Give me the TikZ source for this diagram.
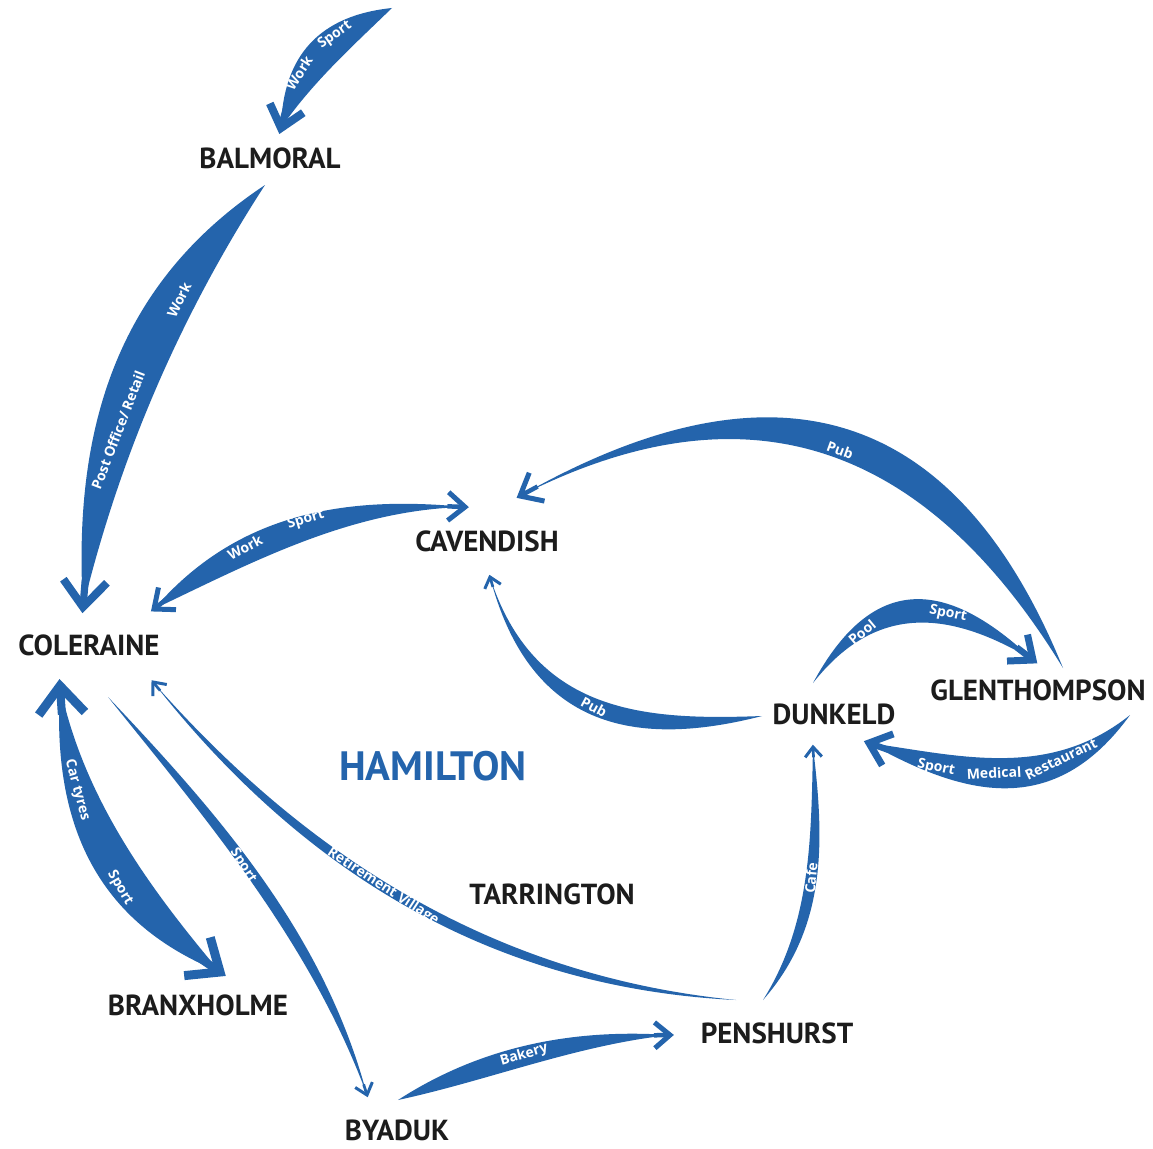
\documentclass[tikz,border=0pt]{standalone}
\usepackage{fontspec}
\newfontfamily\townfont{PT Sans}
\newfontfamily\lblfont{Open Sans}
\usetikzlibrary{calc}
\definecolor{arrowblue}{HTML}{2464AC}
\definecolor{townblack}{HTML}{1C1C1C}
% tip, toward, length, line width
\newcommand\chevr[4]{%
  \draw[arrowblue, line width=#4pt, line join=miter]
    ($(#1)!#3pt!40:(#2)$) -- (#1) -- ($(#1)!#3pt!-40:(#2)$);
  \draw[arrowblue, line width=0.9*#4pt] (#1) -- ($(#1)!0.8*#3pt!(#2)$);
}
% tail, head, h1, h2, k1, k2, head lw, chevron length
\newcommand\crescarrow[8]{%
  \coordinate (cA) at (#1);
  \coordinate (cB) at (#2);
  \coordinate (c1) at ($(cA)!1/3!(cB)!#3pt!90:(cB)$);
  \coordinate (c2) at ($(cA)!2/3!(cB)!#4pt!90:(cB)$);
  \coordinate (d1) at ($(cA)!1/3!(cB)!#5pt!90:(cB)$);
  \coordinate (d2) at ($(cA)!2/3!(cB)!#6pt!90:(cB)$);
  \coordinate (cm1) at ($(c1)!0.5!(d1)$);
  \coordinate (cm2) at ($(c2)!0.5!(d2)$);
  \fill[arrowblue] (cA) .. controls (c1) and (c2) .. (cB)
     .. controls (d2) and (d1) .. (cA) -- cycle;
  \chevr{cB}{cm2}{#8}{#7}
}
\tikzset{
  town/.style={font=\townfont\bfseries\fontsize{29}{30}\selectfont, text=townblack, inner sep=0pt},
  lbl/.style={font=\lblfont\bfseries\fontsize{14}{15}\selectfont, text=white, inner sep=0pt},
}
\begin{document}
\begin{tikzpicture}[x=1pt,y=-1pt]
\fill[white] (0,0) rectangle (1153,1148);
\useasboundingbox (0,0) rectangle (1153,1148);

% towns
\node[town] (balmoral) at (270,158) {BALMORAL};
\node[town] (cavendish) at (487,541) {CAVENDISH};
\node[town] (coleraine) at (89,645) {COLERAINE};
\node[town] (glenthompson) at (1038,690) {GLENTHOMPSON};
\node[town] (dunkeld) at (834,714) {DUNKELD};
\node[town, text=arrowblue, font=\townfont\bfseries\fontsize{41}{43}\selectfont] (hamilton) at (433,766) {HAMILTON};
\node[town] (tarrington) at (552,894) {TARRINGTON};
\node[town] (branxholme) at (198,1005) {BRANXHOLME};
\node[town] (penshurst) at (777,1033) {PENSHURST};
\node[town] (byaduk) at (397,1130) {BYADUK};

% arrow end points
\coordinate (a1t) at (392,8);    \coordinate (a1h) at (281,128);
\coordinate (a2t) at (265,185);  \coordinate (a2h) at (83,607);
\coordinate (a3t) at (154,609);  \coordinate (a3h) at (465,507);
\coordinate (a4t) at (1063,668); \coordinate (a4h) at (520,496);
\coordinate (a5t) at (762,716);  \coordinate (a5h) at (490,577);
\coordinate (a6t) at (813,683);  \coordinate (a6h) at (1033,660);
\coordinate (a7t) at (1130,715); \coordinate (a7h) at (869,743);
\coordinate (a8t) at (763,1000); \coordinate (a8h) at (813,747);
\coordinate (a9t) at (736,1000); \coordinate (a9h) at (153,682);
\coordinate (a10t) at (108,697); \coordinate (a10h) at (367,1095);
\coordinate (a11t) at (60,686);  \coordinate (a11h) at (220,972);
\coordinate (a12t) at (398,1100);\coordinate (a12h) at (670,1035);

% arrows
\crescarrow{a1t}{a1h}{-48}{-48}{-3}{-8}{8}{27}
\crescarrow{a2t}{a2h}{-100}{-77}{-26}{-26}{8}{34}
\crescarrow{a3t}{a3h}{66}{48}{14}{33}{5}{22}
\chevr{cA}{cm1}{22}{5}
\crescarrow{a4t}{a4h}{-228}{-205}{-165}{-187}{5}{25}
\crescarrow{a5t}{a5h}{90}{114}{57}{102}{3}{13}
\crescarrow{a6t}{a6h}{108}{86}{76}{55}{7}{26}
\crescarrow{a7t}{a7h}{97}{62}{56}{22}{7}{26}
\crescarrow{a8t}{a8h}{-33}{-15}{-50}{-28}{3}{13}
\crescarrow{a9t}{a9h}{94}{81}{107}{95}{3}{14}
\crescarrow{a10t}{a10h}{16}{36}{29}{52}{3}{14}
\crescarrow{a11t}{a11h}{-70}{-88}{-34}{-21}{9}{36}
\chevr{cA}{cm1}{36}{9}
\crescarrow{a12t}{a12h}{33}{29}{-2}{12}{5}{20}

% labels
\node[lbl, rotate=57] (l1a) at (299,73) {Work};
\node[lbl, rotate=35] (l1b) at (335,35) {Sport};
\node[lbl, rotate=64] (l2a) at (179,300) {Work};
\node[lbl, rotate=69] (l2b) at (118,430) {Post Office/ Retail};
\node[lbl, rotate=28] (l3a) at (245,547) {Work};
\node[lbl, rotate=17] (l3b) at (306,520) {Sport};
\node[lbl, rotate=-20] (l4) at (840,450) {Pub};
\node[lbl, rotate=-28] (l5) at (594,707) {Pub};
\node[lbl, rotate=40] (l6a) at (862,632) {Pool};
\node[lbl, rotate=-12] (l6b) at (948,614) {Sport};
\node[lbl, rotate=-12] (l7a) at (936,768) {Sport};
\node[lbl, rotate=3] (l7b) at (994,773) {Medical};
\node[lbl, rotate=26] (l7c) at (1061,759) {Restaurant};
\node[lbl, rotate=85] (l8) at (811,878) {Cafe};
\node[lbl, rotate=-33] (l9) at (383,887) {Retirement Village};
\node[lbl, rotate=-58] (l10) at (243,866) {Sport};
\node[lbl, rotate=-75] (l11a) at (77,790) {Car tyres};
\node[lbl, rotate=-60] (l11b) at (120,888) {Sport};
\node[lbl, rotate=16] (l12) at (524,1055) {Bakery};
\end{tikzpicture}
\end{document}
